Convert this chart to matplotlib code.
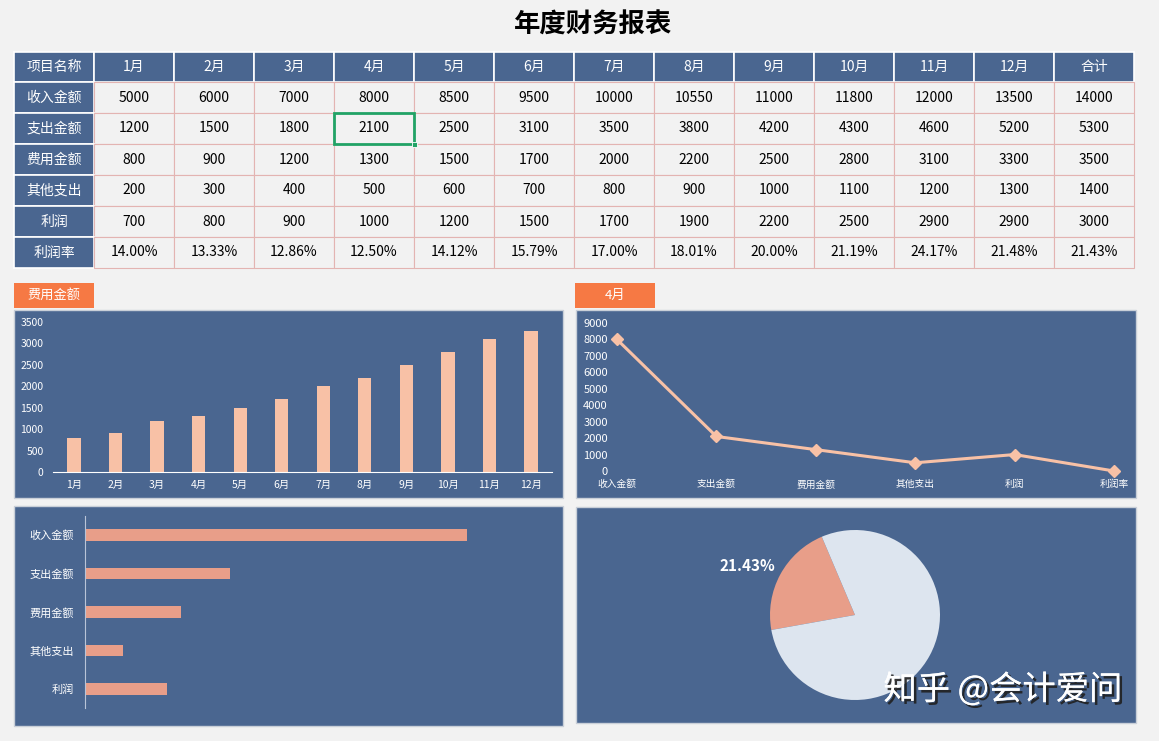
import matplotlib
matplotlib.use('Agg')
import matplotlib.pyplot as plt
import matplotlib.patheffects as pe
from matplotlib.patches import Rectangle

plt.rcParams['font.family'] = ['Noto Sans CJK SC', 'DejaVu Sans']

# ---- data ----
months = ['1月', '2月', '3月', '4月', '5月', '6月', '7月', '8月', '9月', '10月', '11月', '12月']
items = ['收入金额', '支出金额', '费用金额', '其他支出', '利润']
income = [5000, 6000, 7000, 8000, 8500, 9500, 10000, 10550, 11000, 11800, 12000, 13500]
expense = [1200, 1500, 1800, 2100, 2500, 3100, 3500, 3800, 4200, 4300, 4600, 5200]
fees = [800, 900, 1200, 1300, 1500, 1700, 2000, 2200, 2500, 2800, 3100, 3300]
other = [200, 300, 400, 500, 600, 700, 800, 900, 1000, 1100, 1200, 1300]
profit = [700, 800, 900, 1000, 1200, 1500, 1700, 1900, 2200, 2500, 2900, 2900]
rates = [14.00, 13.33, 12.86, 12.50, 14.12, 15.79, 17.00, 18.01, 20.00, 21.19, 24.17, 21.48]
totals = [14000, 5300, 3500, 1400, 3000]
total_rate = 21.43

line_labels = ['收入金额', '支出金额', '费用金额', '其他支出', '利润', '利润率']
april = [8000, 2100, 1300, 500, 1000, 0.125]

# ---- colours ----
BG = '#f2f2f2'
BLUE = '#4a6690'
ORANGE = '#f67944'
PEACH = '#f8c1a6'
SALMON = '#e89e89'
PALE = '#dde5ef'
GRID = '#e3b4b2'

W, H = 1159, 741
fig = plt.figure(figsize=(W / 100, H / 100), dpi=100, facecolor=BG)


def px_axes(x0, y0, x1, y1, **kw):
    return fig.add_axes([x0 / W, 1 - y1 / H, (x1 - x0) / W, (y1 - y0) / H], **kw)


# overlay for table, tabs and panel backgrounds
ov = px_axes(0, 0, W, H, zorder=0)
ov.set_xlim(0, W)
ov.set_ylim(H, 0)
ov.axis('off')

ov.text(593, 25, '年度财务报表', ha='center', va='center', fontsize=19, fontweight='bold')

# table
tx, ty, cw, hh, rh = 14, 52, 80, 30, 31
header = ['项目名称'] + months + ['合计']
rows = [income + [totals[0]], expense + [totals[1]], fees + [totals[2]],
        other + [totals[3]], profit + [totals[4]]]
row_text = [[str(v) for v in r] for r in rows]
row_text.append(['%.2f%%' % r for r in rates] + ['%.2f%%' % total_rate])
row_names = items + ['利润率']

for j, h in enumerate(header):
    ov.add_patch(Rectangle((tx + j * cw, ty), cw, hh, facecolor=BLUE, edgecolor='white', lw=1.2))
    ov.text(tx + j * cw + cw / 2, ty + hh / 2, h, ha='center', va='center', color='white', fontsize=10)
for i, name in enumerate(row_names):
    y = ty + hh + i * rh
    ov.add_patch(Rectangle((tx, y), cw, rh, facecolor=BLUE, edgecolor='white', lw=1.2))
    ov.text(tx + cw / 2, y + rh / 2, name, ha='center', va='center', color='white', fontsize=10)
    for j, val in enumerate(row_text[i]):
        x = tx + (j + 1) * cw
        ov.add_patch(Rectangle((x, y), cw, rh, facecolor=BG, edgecolor=GRID, lw=0.8))
        ov.text(x + cw / 2, y + rh / 2, val, ha='center', va='center', color='black', fontsize=10)

# excel selection box on the April expense cell
sx, sy = tx + 4 * cw, ty + hh + rh
ov.add_patch(Rectangle((sx, sy), cw, rh, facecolor='none', edgecolor='#21a366', lw=2, zorder=5))
ov.add_patch(Rectangle((sx + cw - 2.5, sy + rh - 2.5), 5, 5, facecolor='#21a366',
                       edgecolor='white', lw=0.6, zorder=6))

# tabs
for (x0, label) in [(14, '费用金额'), (575, '4月')]:
    ov.add_patch(Rectangle((x0, 283), 80, 25, facecolor=ORANGE, edgecolor='none'))
    ov.text(x0 + 40, 295.5, label, ha='center', va='center', color='white', fontsize=9.5)

# panel backgrounds
for (x0, y0, x1, y1) in [(14, 310, 563, 498), (576, 310, 1136, 498),
                         (14, 506, 563, 726), (576, 507, 1136, 723)]:
    ov.add_patch(Rectangle((x0, y0), x1 - x0, y1 - y0, facecolor=BLUE, edgecolor='#c9cfd8', lw=1))

# ---- panel 1: monthly fees ----
a1 = px_axes(53.25, 322, 551.75, 472)
a1.set_facecolor('none')
x = list(range(1, 13))
a1.bar(x, fees, width=0.32, color=PEACH)
a1.set_xlim(0.5, 12.5)
a1.set_ylim(0, 3500)
a1.set_yticks(range(0, 3501, 500))
a1.set_xticks(x)
a1.set_xticklabels(months)
for s in ['top', 'right', 'left']:
    a1.spines[s].set_visible(False)
a1.spines['bottom'].set_color('white')
a1.tick_params(colors='white', labelsize=7.5, length=0, pad=6)
a1.tick_params(axis='y', pad=7)

# ---- panel 2: April line ----
a2 = px_axes(612, 323, 1130, 471)
a2.set_facecolor('none')
xi = list(range(len(line_labels)))
a2.plot(xi, april, color=PEACH, lw=2.2, marker='D', markersize=6, clip_on=False)
a2.set_xlim(-0.05, 5.161)
a2.set_ylim(0, 9000)
a2.set_yticks(range(0, 9001, 1000))
a2.set_xticks(xi)
a2.set_xticklabels(line_labels)
for s in a2.spines.values():
    s.set_visible(False)
a2.tick_params(colors='white', length=0)
a2.tick_params(axis='y', labelsize=8, pad=3)
a2.tick_params(axis='x', labelsize=7, pad=6)

# ---- panel 3: totals bar ----
a3 = px_axes(85, 515.75, 547, 708.25)
a3.set_facecolor('none')
yi = list(range(len(items)))
a3.barh(yi, totals, height=0.31, color=SALMON)
a3.set_xlim(0, 16930)
a3.set_ylim(4.5, -0.5)
a3.set_yticks(yi)
a3.set_yticklabels(items)
a3.set_xticks([])
for s in ['top', 'right', 'bottom']:
    a3.spines[s].set_visible(False)
a3.spines['left'].set_color('#b9c4d8')
a3.tick_params(colors='white', labelsize=8, length=0, pad=8)

# ---- panel 4: profit rate pie ----
a4 = px_axes(770, 530, 940, 700)
a4.pie([total_rate, 100 - total_rate], colors=[SALMON, PALE], startangle=113,
       counterclock=True, wedgeprops=dict(linewidth=0))
a4.set_xlim(-1, 1)
a4.set_ylim(-1, 1)
ov.text(747, 566, '%.2f%%' % total_rate, ha='center', va='center', color='white',
        fontsize=11, fontweight='bold')

# watermark on top of everything
top = px_axes(0, 0, W, H, zorder=5)
top.axis('off')
top.set_xlim(0, W)
top.set_ylim(H, 0)
top.text(1003, 690, '知乎 @会计爱问', ha='center', va='center', color='white', fontsize=24,
         path_effects=[pe.withSimplePatchShadow(offset=(2, -2), shadow_rgbFace='#202020', alpha=0.9),
                       pe.Normal()])

fig.savefig('out.png', dpi=100, facecolor=BG)
